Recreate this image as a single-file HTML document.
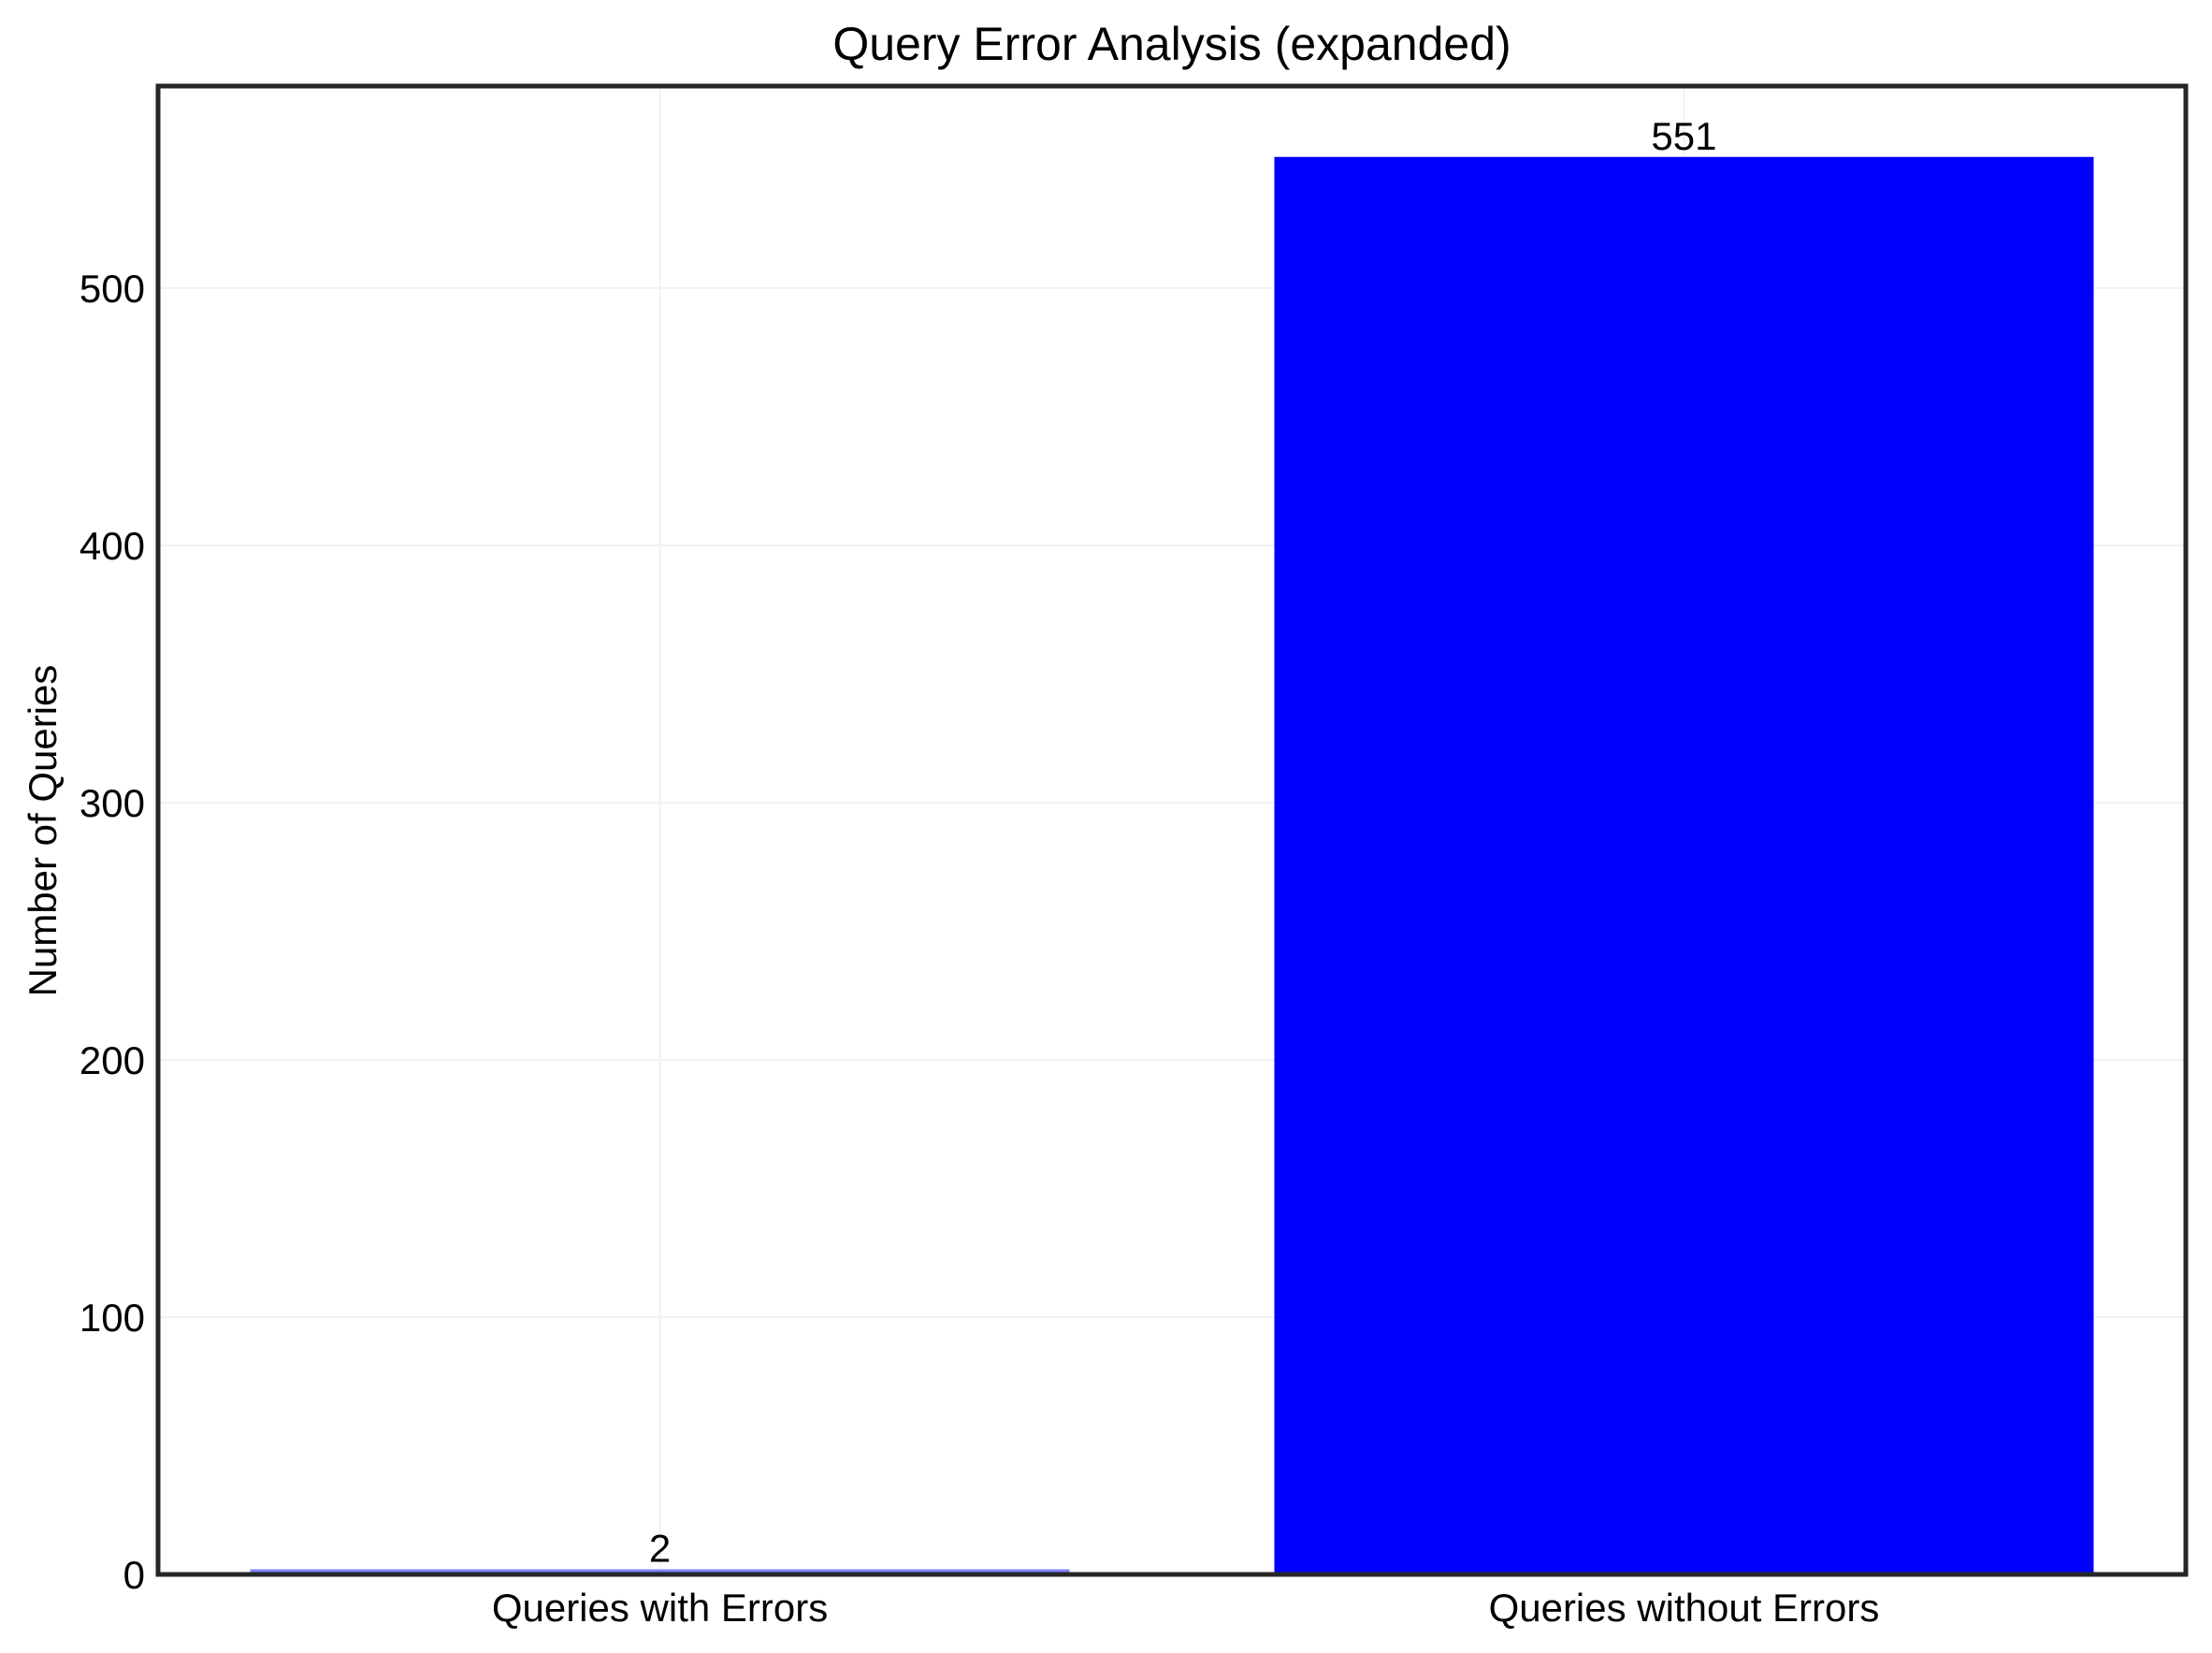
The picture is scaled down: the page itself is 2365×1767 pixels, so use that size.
<!DOCTYPE html>
<html><head><meta charset="utf-8"><style>
body{margin:0;background:#fff;}
svg{display:block;font-family:"Liberation Sans",Arial,sans-serif;}
</style></head><body>
<svg id="chart" width="2365" height="1767" xmlns="http://www.w3.org/2000/svg">
<rect width="2365" height="1767" fill="#fff"/>
<g id="grid"></g>
<g id="bars"></g>
<g id="labels"></g>
<rect x="169" y="92" width="2168" height="1591" fill="none" stroke="#262626" stroke-width="5"/>
<text x="1253" y="64" font-size="50" text-anchor="middle" fill="#000">Query Error Analysis (expanded)</text>
<text transform="translate(60,888) rotate(-90)" font-size="42" text-anchor="middle" fill="#000">Number of Queries</text>
</svg>
<script>
const categories = ["Queries with Errors", "Queries without Errors"];
const values = [2, 551];
const colors = ["#8080ff", "#0000ff"];
const yTicks = [0, 100, 200, 300, 400, 500];

const L = 169, R = 2337, T = 92, B = 1683;
const xMin = -0.49, xMax = 1.49, yMax = 578.55;
const xs = v => L + (v - xMin) / (xMax - xMin) * (R - L);
const ys = v => B - v / yMax * (B - T);
const NS = "http://www.w3.org/2000/svg";
function mk(tag, attrs, parent, text){
  const e = document.createElementNS(NS, tag);
  for (const k in attrs) e.setAttribute(k, attrs[k]);
  if (text !== undefined) e.textContent = text;
  document.getElementById(parent).appendChild(e);
  return e;
}
yTicks.forEach(t => {
  const g = mk("line", {x1:L, x2:R, y1:ys(t), y2:ys(t), stroke:"#f2f2f2", "stroke-width":2}, "grid");
  
  
  const lb = mk("text", {x:L-14, y:ys(t)+15, "font-size":42, "text-anchor":"end", fill:"#000"}, "labels", String(t));
  
  
});
categories.forEach((c, i) => {
  const g = mk("line", {x1:xs(i), x2:xs(i), y1:T, y2:B, stroke:"#f2f2f2", "stroke-width":2}, "grid");
  
  
  const x0 = xs(i - 0.4), x1 = xs(i + 0.4);
  const b = mk("rect", {x:x0, y:ys(values[i]), width:x1 - x0, height:ys(0) - ys(values[i]), fill:colors[i]}, "bars");
  
  
  const v = mk("text", {x:xs(i), y:ys(values[i]) - 8, "font-size":42, "text-anchor":"middle", fill:"#000"}, "labels", String(values[i]));
  
  
  const xl = mk("text", {x:xs(i), y:B + 50, "font-size":42, "text-anchor":"middle", fill:"#000"}, "labels", c);
  
  
});
</script>
</body></html>
